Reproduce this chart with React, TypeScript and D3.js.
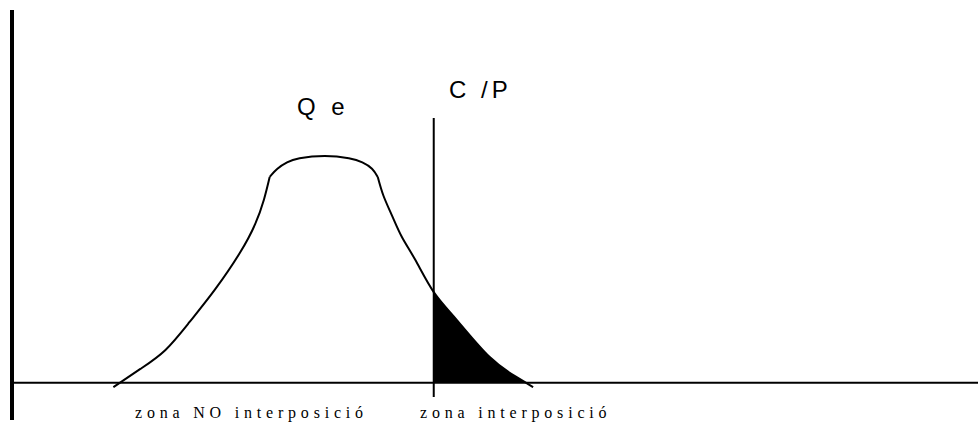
import React from "react";
import * as d3 from "d3";

// Schematic distribution curve (x: position along axis 0..100, y: height 0..100)
const riseX = [10.4, 13.2, 15.8, 18.3, 20.9, 23.5, 25.1, 26.0, 26.6];
const riseY = [-1.2, 3.7, 8.8, 16.3, 24.9, 34.8, 42.6, 49.1, 55.2];
const topX = [26.6, 27.4, 28.4, 29.7, 32.3, 34.8, 36.2, 37.2, 37.8];
const topY = [55.2, 57.4, 59.1, 60.2, 60.8, 60.2, 59.1, 57.4, 55.2];
const fallX = [37.8, 38.4, 39.3, 40.3, 41.7, 43.6, 46.0, 49.4, 52.2, 53.9];
const fallY = [55.2, 50.1, 44.7, 39.1, 32.9, 24.3, 16.8, 6.9, 1.5, -1.2];

const cutoffX = 43.6; // C/P
const cutoffTop = 71;
const cutoffBottom = -3.8;

const curveLabels = ["Q e", "C /P"];
const zoneLabels = ["zona NO interposició", "zona interposició"];

const W = 978;
const H = 423;

export default function App() {
  const x = d3.scaleLinear().domain([0, 100]).range([13, 978]);
  const y = d3.scaleLinear().domain([-10, 100]).range([420, 10]);

  const toPts = (xs: number[], ys: number[]) => xs.map((v, i) => [v, ys[i]] as [number, number]);
  const line = d3
    .line<[number, number]>()
    .x((d) => x(d[0]))
    .y((d) => y(d[1]))
    .curve(d3.curveNatural);
  const area = d3
    .area<[number, number]>()
    .x((d) => x(d[0]))
    .y0(y(0))
    .y1((d) => y(d[1]))
    .curve(d3.curveNatural);

  const rise = toPts(riseX, riseY);
  const top = toPts(topX, topY);
  const fall = toPts(fallX, fallY);

  const sans = "'Liberation Sans', Arial, Helvetica, sans-serif";
  const serif = "'Liberation Serif', 'Times New Roman', Times, serif";

  return (
    <svg
      width={W}
      height={H}
      style={{ position: "absolute", left: 0, top: 0, background: "#fff" }}
    >
      <defs>
        <clipPath id="tailClip">
          <rect x={x(cutoffX)} y={0} width={W - x(cutoffX)} height={y(0)} />
        </clipPath>
      </defs>
      <rect width={W} height={H} fill="#fff" />
      {/* shaded tail */}
      <path d={area(fall) || ""} fill="#000" clipPath="url(#tailClip)" />
      {/* axes */}
      <line x1={x(0) - 1} x2={x(0) - 1} y1={y(100)} y2={y(-10)} stroke="#000" strokeWidth={4} />
      <line x1={x(0)} x2={x(100)} y1={y(0)} y2={y(0)} stroke="#000" strokeWidth={2} />
      {/* curve */}
      <path d={line(rise) || ""} fill="none" stroke="#000" strokeWidth={2} />
      <path d={line(top) || ""} fill="none" stroke="#000" strokeWidth={2} />
      <path d={line(fall) || ""} fill="none" stroke="#000" strokeWidth={2} />
      {/* C/P line */}
      <line
        x1={x(cutoffX)}
        x2={x(cutoffX)}
        y1={y(cutoffTop)}
        y2={y(cutoffBottom)}
        stroke="#000"
        strokeWidth={2}
      />
      {/* labels */}
      <text x={297} y={115} fontFamily={sans} fontSize={24} letterSpacing={4.5}>
        {curveLabels[0]}
      </text>
      <text x={449} y={98} fontFamily={sans} fontSize={24} letterSpacing={4}>
        {curveLabels[1]}
      </text>
      <text x={135} y={418} fontFamily={serif} fontSize={16} letterSpacing={4.8}>
        {zoneLabels[0]}
      </text>
      <text x={420} y={418} fontFamily={serif} fontSize={16} letterSpacing={4.8}>
        {zoneLabels[1]}
      </text>
    </svg>
  );
}
